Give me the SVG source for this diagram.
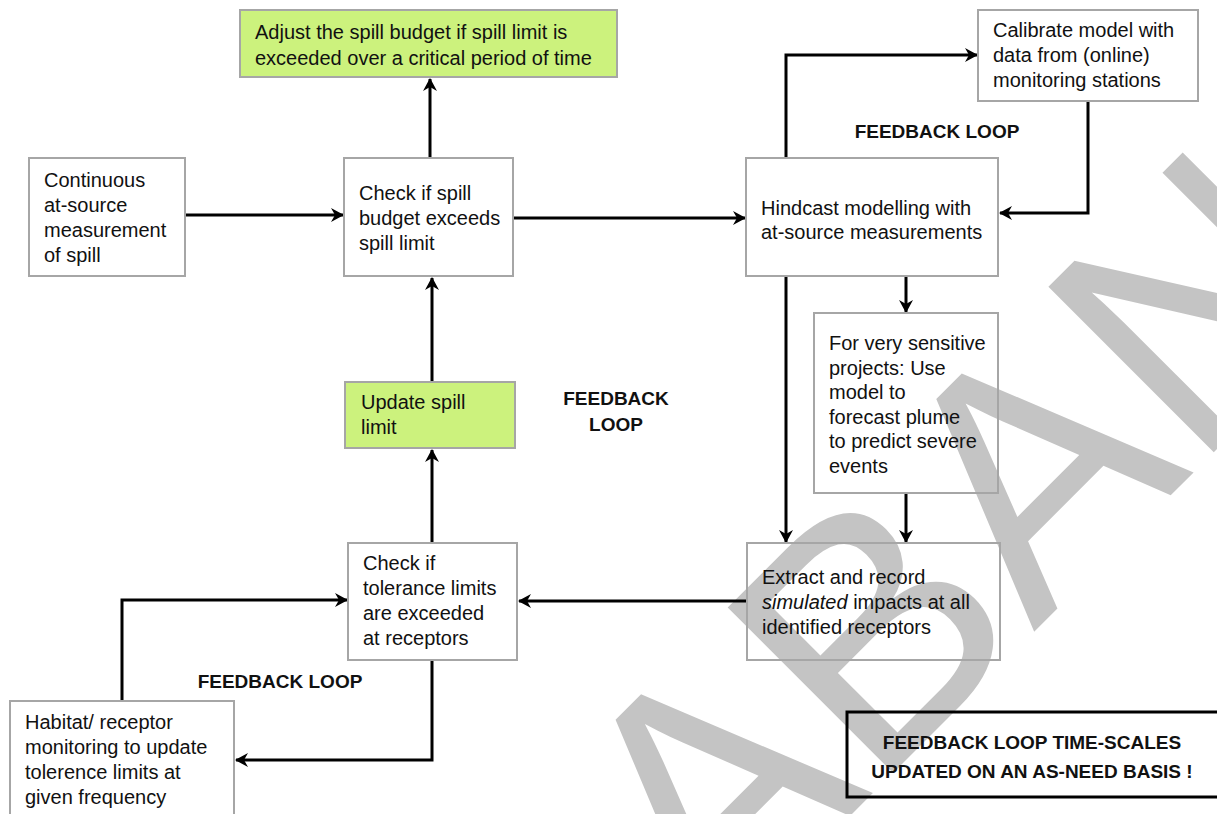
<svg xmlns="http://www.w3.org/2000/svg" width="1217" height="814" viewBox="0 0 1217 814">
<style>
.box{fill:none;stroke:#a6a6a6;stroke-width:2}
.green{fill:#ccf27d;stroke:#a6a6a6;stroke-width:2}
.t{font-family:"Liberation Sans",Arial,sans-serif;font-size:20px;fill:#111}
.b{font-family:"Liberation Sans",Arial,sans-serif;font-size:19px;font-weight:bold;fill:#111}
.c{fill:none;stroke:#000;stroke-width:3;marker-end:url(#ah)}
.wm{font-family:"Liberation Sans",Arial,sans-serif;fill:#c4c4c4}
</style>
<defs>
<marker id="ah" markerUnits="userSpaceOnUse" markerWidth="16" markerHeight="16" refX="13" refY="8" orient="auto">
<path d="M1,1 L14,8 L1,15 L5,8 z" fill="#000"/>
</marker>
</defs>
<rect width="1217" height="814" fill="#fff"/>
<g id="watermark">
<text class="wm" x="713" y="953" font-size="340" transform="rotate(-45 713 953)">ABAN</text>
</g>
<g id="connectors">
<path class="c" d="M186,215 H343"/>
<path class="c" d="M513,218 H745"/>
<path class="c" d="M430,158 V79"/>
<path class="c" d="M786,158 V55 H977"/>
<path class="c" d="M1088,101 V213 H1000"/>
<path class="c" d="M906,277 V312"/>
<path class="c" d="M786,277 V542"/>
<path class="c" d="M906,494 V542"/>
<path class="c" d="M747,601 H519"/>
<path class="c" d="M432,543 V450"/>
<path class="c" d="M432,382 V278"/>
<path class="c" d="M122,701 V600 H347"/>
<path class="c" d="M432,660 V760 H236"/>
</g>
<g id="adjust">
<rect class="green" x="240" y="10" width="377" height="67"/>
<text class="t" x="255" y="39">Adjust the spill budget if spill limit is</text>
<text class="t" x="255" y="65">exceeded over a critical period of time</text>
</g>
<g id="calibrate">
<rect class="box" x="978" y="10" width="220" height="91"/>
<text class="t" x="993" y="37">Calibrate model with</text>
<text class="t" x="993" y="62">data from (online)</text>
<text class="t" x="993" y="87">monitoring stations</text>
</g>
<g id="continuous">
<rect class="box" x="29" y="158" width="156" height="118"/>
<text class="t" x="44" y="187">Continuous</text>
<text class="t" x="44" y="212">at-source</text>
<text class="t" x="44" y="237">measurement</text>
<text class="t" x="44" y="262">of spill</text>
</g>
<g id="checkspill">
<rect class="box" x="344" y="158" width="169" height="118"/>
<text class="t" x="359" y="200">Check if spill</text>
<text class="t" x="359" y="225">budget exceeds</text>
<text class="t" x="359" y="250">spill limit</text>
</g>
<g id="hindcast">
<rect class="box" x="746" y="158" width="252" height="118"/>
<text class="t" x="761" y="215">Hindcast modelling with</text>
<text class="t" x="761" y="239">at-source measurements</text>
</g>
<g id="feedback-top">
<text class="b" x="937" y="138" text-anchor="middle">FEEDBACK LOOP</text>
</g>
<g id="sensitive">
<rect class="box" x="814" y="313" width="184" height="180"/>
<text class="t" x="829" y="350">For very sensitive</text>
<text class="t" x="829" y="375">projects: Use</text>
<text class="t" x="829" y="399">model to</text>
<text class="t" x="829" y="424">forecast plume</text>
<text class="t" x="829" y="448">to predict severe</text>
<text class="t" x="829" y="473">events</text>
</g>
<g id="update">
<rect class="green" x="345" y="382" width="170" height="66"/>
<text class="t" x="361" y="409">Update spill</text>
<text class="t" x="361" y="434">limit</text>
</g>
<g id="feedback-mid">
<text class="b" x="616" y="405" text-anchor="middle">FEEDBACK</text>
<text class="b" x="616" y="431" text-anchor="middle">LOOP</text>
</g>
<g id="checktolerance">
<rect class="box" x="348" y="543" width="169" height="117"/>
<text class="t" x="363" y="570">Check if</text>
<text class="t" x="363" y="595">tolerance limits</text>
<text class="t" x="363" y="620">are exceeded</text>
<text class="t" x="363" y="645">at receptors</text>
</g>
<g id="extract">
<rect class="box" x="747" y="543" width="253" height="117"/>
<text class="t" x="762" y="584">Extract and record</text>
<text class="t" x="762" y="609"><tspan font-style="italic">simulated</tspan> impacts at all</text>
<text class="t" x="762" y="634">identified receptors</text>
</g>
<g id="feedback-bottom">
<text class="b" x="280" y="688" text-anchor="middle">FEEDBACK LOOP</text>
</g>
<g id="habitat">
<rect class="box" x="10" y="701" width="224" height="120"/>
<text class="t" x="25" y="729">Habitat/ receptor</text>
<text class="t" x="25" y="754">monitoring to update</text>
<text class="t" x="25" y="779">tolerence limits at</text>
<text class="t" x="25" y="804">given frequency</text>
</g>
<g id="note">
<rect x="847" y="712" width="375" height="85" fill="none" stroke="#000" stroke-width="3"/>
<text class="b" x="1032" y="749" text-anchor="middle">FEEDBACK LOOP TIME-SCALES</text>
<text class="b" x="1032" y="778" text-anchor="middle">UPDATED ON AN AS-NEED BASIS !</text>
</g>
</svg>
